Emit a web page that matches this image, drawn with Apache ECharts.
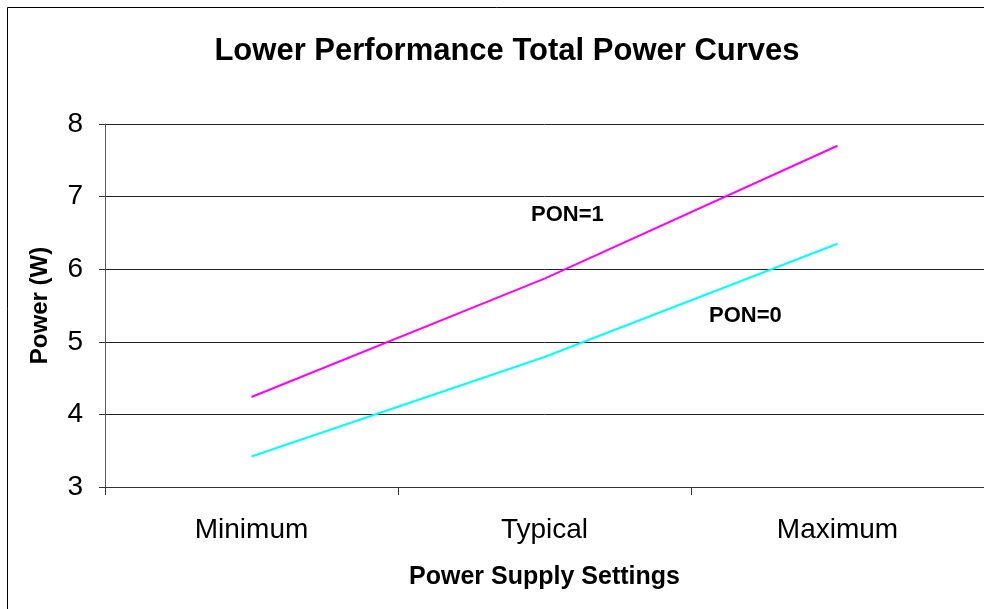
<!DOCTYPE html>
<html>
<head>
<meta charset="utf-8">
<script src="https://cdn.jsdelivr.net/npm/echarts@6/dist/echarts.min.js"></script>
<style>
  html, body { margin: 0; padding: 0; background: #fff; }
  #chart { width: 984px; height: 609px; }
</style>
</head>
<body>
<div id="chart"></div>
<script>
const categories = ['Minimum', 'Typical', 'Maximum']
const pon1 = [4.24, 5.87, 7.70]
const pon0 = [3.42, 4.79, 6.35]
const yTicks = [3, 4, 5, 6, 7, 8]

const font = 'Liberation Sans, Arial, sans-serif'
const chart = echarts.init(document.getElementById('chart'))

chart.setOption({
  animation: false,
  backgroundColor: '#fff',
  title: {
    text: 'Lower Performance Total Power Curves',
    left: 502,
    top: 31,
    textAlign: 'center',
    textStyle: { fontFamily: font, fontSize: 31, fontWeight: 'bold', color: '#000' },
  },
  grid: { left: 105, right: 0, top: 124, bottom: 122 },
  xAxis: {
    type: 'category',
    data: categories,
    boundaryGap: true,
    name: 'Power Supply Settings',
    nameLocation: 'middle',
    nameGap: 78,
    nameTextStyle: { fontFamily: font, fontSize: 25, fontWeight: 'bold', color: '#000' },
    axisLine: { lineStyle: { color: '#333', width: 1 } },
    axisTick: { show: true, length: 8, alignWithLabel: false, lineStyle: { color: '#333' } },
    axisLabel: { fontFamily: font, fontSize: 28, color: '#000', margin: 29 },
  },
  yAxis: {
    type: 'value',
    min: yTicks[0],
    max: yTicks[yTicks.length - 1],
    interval: 1,
    name: 'Power (W)',
    nameLocation: 'middle',
    nameGap: 53,
    nameTextStyle: { fontFamily: font, fontSize: 24, fontWeight: 'bold', color: '#000' },
    axisLine: { show: true, lineStyle: { color: '#555', width: 1 } },
    axisTick: { show: true, length: 6, lineStyle: { color: '#333' } },
    axisLabel: { fontFamily: font, fontSize: 28, color: '#000', margin: 22 },
    splitLine: { lineStyle: { color: '#222', width: 1 } },
  },
  series: [
    {
      name: 'PON=1',
      type: 'line',
      data: pon1,
      symbol: 'none',
      lineStyle: { color: '#ff00ff', width: 2 },
    },
    {
      name: 'PON=0',
      type: 'line',
      data: pon0,
      symbol: 'none',
      lineStyle: { color: '#00ffff', width: 2 },
    },
  ],
  graphic: [
    {
      type: 'rect',
      shape: { x: 7.5, y: 7.5, width: 1000, height: 700 },
      style: { fill: 'none', stroke: '#000', lineWidth: 1 },
      silent: true,
    },
    {
      type: 'text',
      left: 531,
      top: 204,
      style: { text: 'PON=1', font: 'bold 22px ' + font, fill: '#000' },
    },
    {
      type: 'text',
      left: 709,
      top: 305,
      style: { text: 'PON=0', font: 'bold 22px ' + font, fill: '#000' },
    },
  ],
})
</script>
</body>
</html>
